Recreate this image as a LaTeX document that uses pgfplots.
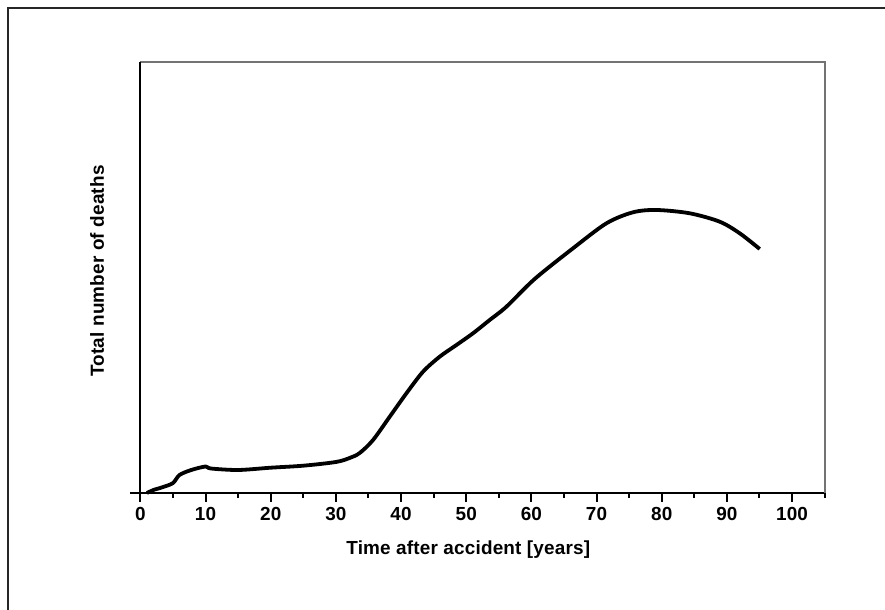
\documentclass[border=0pt]{standalone}
\usepackage{fontspec}
\setmainfont[LetterSpace=1]{Liberation Sans}
\usepackage{pgfplots}
\pgfplotsset{compat=1.18}
\begin{document}
\begin{tikzpicture}[x=1bp,y=1bp]
\useasboundingbox (0,0) rectangle (885,610);
\clip (0,0) rectangle (885,610);
\draw[line width=2bp, black!85] (8.3,-50) -- (8.3,601.7) -- (950,601.7);
\begin{axis}[
  at={(130bp,117bp)}, anchor=south west,
  scale only axis, width=694.6bp, height=431bp,
  xmin=-1.6, xmax=105, ymin=0, ymax=431,
  axis x line*=bottom, axis y line=none,
  axis line style={-, line width=2bp, black},
  clip=false,
  xtick={0,10,...,100}, minor xtick={5,15,...,105},
  ytick=\empty,
  tick align=outside,
  major tick length=9bp, minor tick length=5bp,
  every tick/.style={black, line width=2bp},
  /pgf/number format/assume math mode=true,
  ticklabel style={font=\bfseries\fontsize{19}{22}\selectfont},
  xticklabel style={yshift=-2bp},
  xlabel={Time after accident [years]},
  label style={font=\bfseries\fontsize{19}{22}\selectfont},
  xlabel style={at={(axis description cs:0.487,-0.132)}, anchor=center},
]
\draw[black!55, line width=2bp] (axis cs:0,431) -- (axis cs:105,431) -- (axis cs:105,0);
\draw[black, line width=2bp] (axis cs:0,0) -- (axis cs:0,431);
\node[rotate=90, anchor=center, font=\bfseries\fontsize{19}{22}\selectfont] at (axis description cs:-0.0475,0.515) {Total number of deaths};
\addplot[black, line width=3.8bp, smooth, tension=0.5] coordinates {
(1,0) (2,3) (3.5,6) (5,10) (6,18) (7.8,23) (10,26.5) (10.8,24.5) (15,23) (20,25.3) (25,27.3) (30,31) (32.1,35) (33.65,40)
(35.7,53) (38.26,76.3) (40.82,99.7) (43.37,121.3) (45.93,136.3) (48.5,148) (51.04,159.7) (53.6,173) (56.17,186.3)
(60.5,214) (66.39,244.7) (71.52,269.7) (75.6,280.7) (79.19,283) (84.3,279.7) (88.9,271.3) (91.97,259.7) (95.04,244)
};
\end{axis}
\end{tikzpicture}
\end{document}
